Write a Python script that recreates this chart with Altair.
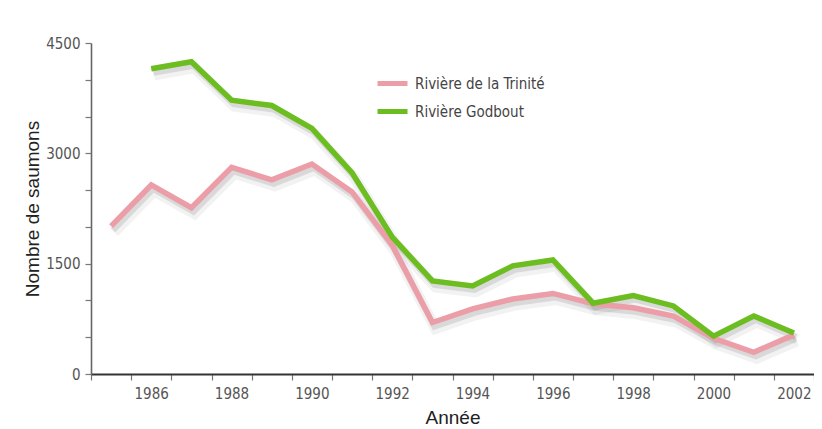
import altair as alt
import pandas as pd

years = list(range(1985, 2003))
trinite = [2010, 2570, 2260, 2810, 2640, 2855, 2475, 1750, 700, 885, 1020, 1095, 955, 900, 788, 485, 295, 532]
godbout = [None, 4150, 4245, 3722, 3650, 3340, 2735, 1860, 1265, 1198, 1470, 1550, 962, 1065, 925, 515, 788, 558]
series_names = ["Rivière de la Trinité", "Rivière Godbout"]
series_colors = ["#ec9ea8", "#6cbd1f"]
y_ticks = list(range(0, 4501, 500))
x_ticks = [y - 0.5 for y in range(1985, 2004)]

rows = []
for yr, a, b in zip(years, trinite, godbout):
    rows.append({"annee": yr, "serie": series_names[0], "valeur": a})
    if b is not None:
        rows.append({"annee": yr, "serie": series_names[1], "valeur": b})
df = pd.DataFrame(rows)

LABEL_FONT = "Liberation Sans Narrow, DejaVu Sans Condensed, sans-serif"
TITLE_FONT = "Liberation Sans, Arial, sans-serif"

x_enc = alt.X(
    "annee:Q",
    scale=alt.Scale(domain=[1984.5, 2002.5], nice=False, zero=False),
    axis=alt.Axis(
        title="Année",
        values=x_ticks,
        labelExpr="((datum.value + 0.5) % 2 == 0 && datum.value < 2002) ? toString(datum.value + 0.5) : ''",
        labelOffset=20,
        labelOverlap=False,
        labelFlush=False,
        labelPadding=6,
        tickSize=6,
        tickColor="#777",
        tickWidth=1.2,
        domainColor="#333",
        domainWidth=2,
        labelFont=LABEL_FONT,
        labelFontSize=15,
        labelColor="#555",
        titleFont=TITLE_FONT,
        titleFontSize=19,
        titleFontWeight="normal",
        titleColor="#222",
        titleBaseline="alphabetic",
        titleY=49,
        grid=False,
    ),
)
y_enc = alt.Y(
    "valeur:Q",
    scale=alt.Scale(domain=[0, 4500], nice=False),
    axis=alt.Axis(
        title="Nombre de saumons",
        values=y_ticks,
        labelExpr="datum.value % 1500 == 0 ? datum.label : ''",
        format="d",
        labelOverlap=False,
        labelFlush=False,
        labelPadding=5,
        tickSize=6,
        tickColor="#777",
        tickWidth=1.2,
        domainColor="#666",
        domainWidth=1.6,
        labelFont=LABEL_FONT,
        labelFontSize=15,
        labelColor="#555",
        titleFont=TITLE_FONT,
        titleFontSize=19,
        titleFontWeight="normal",
        titleColor="#222",
        titleBaseline="alphabetic",
        titleAngle=270,
        titleX=-53,
        grid=False,
    ),
)

color_enc = alt.Color(
    "serie:N",
    scale=alt.Scale(domain=series_names, range=series_colors),
    legend=alt.Legend(
        title=None,
        orient="none",
        legendX=284,
        legendY=23,
        symbolType="stroke",
        symbolSize=900,
        symbolStrokeWidth=5,
        rowPadding=0,
        labelOffset=5,
        padding=0,
        labelFont=LABEL_FONT,
        labelFontSize=15,
        labelColor="#444",
    ),
)

base = alt.Chart(df)

shadow1 = base.mark_line(strokeWidth=11, opacity=0.08, xOffset=3, yOffset=6, strokeJoin="miter").encode(
    x=x_enc, y=y_enc, detail="serie:N", color=alt.value("#555")
)
shadow2 = base.mark_line(strokeWidth=6, opacity=0.16, xOffset=2, yOffset=4, strokeJoin="miter").encode(
    x=x_enc, y=y_enc, detail="serie:N", color=alt.value("#555")
)
line_pink = base.mark_line(strokeWidth=5.5, strokeJoin="miter").encode(
    x=x_enc, y=y_enc, color=color_enc
).transform_filter(alt.datum.serie == series_names[0])
line_green = base.mark_line(strokeWidth=5.5, strokeJoin="miter").encode(
    x=x_enc, y=y_enc, color=color_enc
).transform_filter(alt.datum.serie == series_names[1])

chart = (
    alt.layer(shadow1, shadow2, line_pink, line_green)
    .properties(
        width=723,
        height=331,
        autosize=alt.AutoSizeParams(type="none"),
        padding={"left": 83, "top": 35, "right": 0, "bottom": 56},
        background="white",
    )
    .configure_view(stroke=None)
)

chart.save("out.html", embed_options={"renderer": "svg", "actions": False})
